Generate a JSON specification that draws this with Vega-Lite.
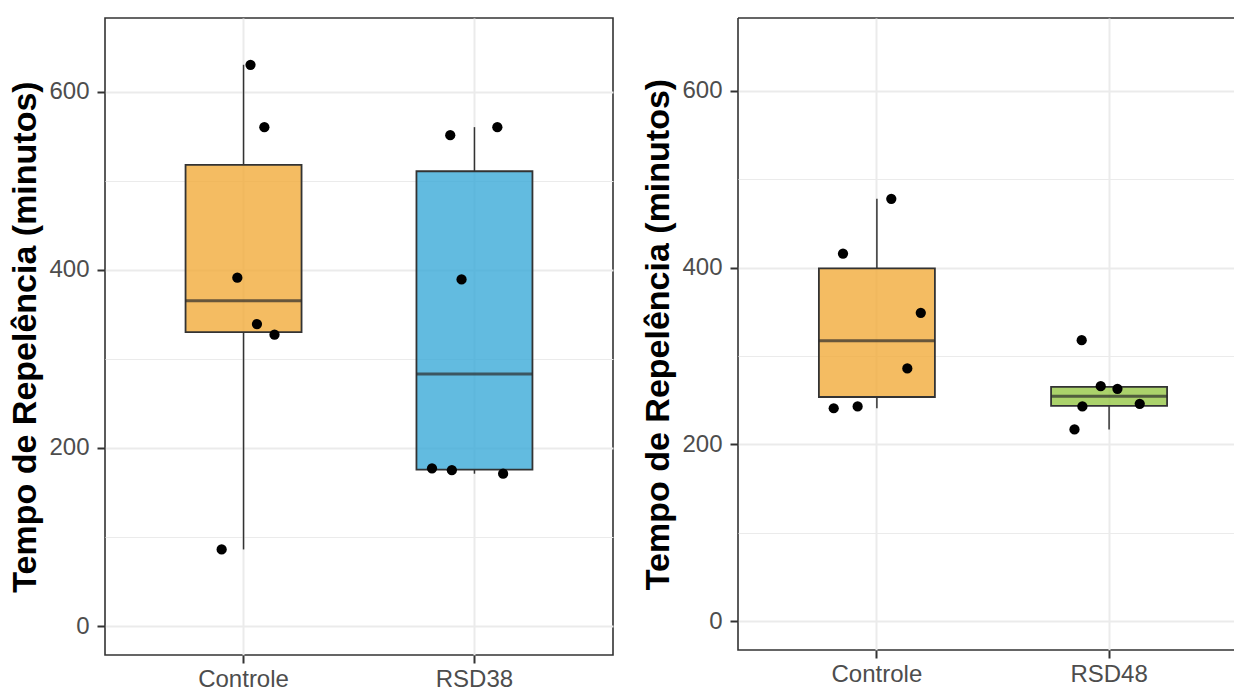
{
  "$schema": "https://vega.github.io/schema/vega-lite/v6.json",
  "padding": {"left": 8, "top": 17, "right": 0, "bottom": 0},
  "background": "white",
  "spacing": 27,
  "config": {
    "font": "Liberation Sans",
    "axis": {
      "labelFont": "Liberation Sans", "labelFontSize": 24, "labelColor": "#4D4D4D",
      "titleFont": "Liberation Sans", "titleFontSize": 34, "titleFontWeight": "bold", "titleColor": "#000000",
      "tickColor": "#333333", "tickWidth": 2, "tickSize": 8,
      "gridColor": "#EBEBEB", "domain": false
    },
    "axisY": {"labelPadding": 8, "titlePadding": 6},
    "axisX": {"labelPadding": 4},
    "view": {"stroke": "#333333", "strokeWidth": 1.6}
  },
  "resolve": {"scale": {"x": "independent", "y": "independent", "color": "independent", "xOffset": "independent"}},
  "hconcat": [
    {
      "width": 508, "height": 637,
      "data": {"values": [
        {"grupo": "Controle", "tempo": 630, "jitter": 0.030},
        {"grupo": "Controle", "tempo": 560, "jitter": 0.090},
        {"grupo": "Controle", "tempo": 391, "jitter": -0.027},
        {"grupo": "Controle", "tempo": 339, "jitter": 0.058},
        {"grupo": "Controle", "tempo": 327, "jitter": 0.134},
        {"grupo": "Controle", "tempo": 86, "jitter": -0.095},
        {"grupo": "RSD38", "tempo": 560, "jitter": 0.099},
        {"grupo": "RSD38", "tempo": 551, "jitter": -0.105},
        {"grupo": "RSD38", "tempo": 389, "jitter": -0.056},
        {"grupo": "RSD38", "tempo": 177, "jitter": -0.184},
        {"grupo": "RSD38", "tempo": 175, "jitter": -0.098},
        {"grupo": "RSD38", "tempo": 171, "jitter": 0.124}
      ]},
      "layer": [
        {
          "mark": {"type": "boxplot", "extent": 1.5, "outliers": false, "size": 116, "ticks": false,
            "box": {"stroke": "#333333", "strokeWidth": 1.8, "fillOpacity": 0.8},
            "median": {"color": "#2B2B2B", "thickness": 3},
            "rule": {"color": "#333333", "strokeWidth": 1.5}},
          "encoding": {
            "x": {"field": "grupo", "type": "nominal", "sort": ["Controle", "RSD38"], "title": null,
              "scale": {"type": "band", "paddingInner": 0.5, "paddingOuter": 0.35},
              "axis": {"labelAngle": 0, "grid": true, "gridWidth": 2, "bandPosition": 0.5}},
            "y": {"field": "tempo", "type": "quantitative", "title": "Tempo de Repelência (minutos)",
              "scale": {"domain": [-32.5, 682.5], "nice": false, "zero": false},
              "axis": {"values": [0, 100, 200, 300, 400, 500, 600], "labelOverlap": false,
                "labelExpr": "datum.value % 200 === 0 ? datum.label : ''",
                "gridWidth": {"condition": {"test": "datum.value % 200 === 0", "value": 2}, "value": 1.2},
                "tickOpacity": {"condition": {"test": "datum.value % 200 === 0", "value": 1}, "value": 0}}},
            "color": {"field": "grupo", "type": "nominal", "legend": null,
              "scale": {"domain": ["Controle", "RSD38"], "range": ["#F1AB3B", "#3BAAD8"]}}
          }
        },
        {
          "mark": {"type": "point", "filled": true, "size": 105, "color": "#000000", "opacity": 1},
          "encoding": {
            "x": {"field": "grupo", "type": "nominal", "sort": ["Controle", "RSD38"], "title": null,
              "scale": {"type": "band", "paddingInner": 0.5, "paddingOuter": 0.35}},
            "xOffset": {"field": "jitter", "type": "quantitative", "scale": {"domain": [-0.5, 0.5], "range": [-57.7, 173.2]}},
            "y": {"field": "tempo", "type": "quantitative", "title": "Tempo de Repelência (minutos)",
              "scale": {"domain": [-32.5, 682.5], "nice": false, "zero": false}}
          }
        }
      ]
    },
    {
      "width": 498, "height": 632,
      "view": {"stroke": "#333333", "strokeWidth": 1.6, "strokeDash": [498, 632, 1130, 0]},
      "data": {"values": [
        {"grupo": "Controle", "tempo": 478, "jitter": 0.062},
        {"grupo": "Controle", "tempo": 416, "jitter": -0.146},
        {"grupo": "Controle", "tempo": 349, "jitter": 0.189},
        {"grupo": "Controle", "tempo": 286, "jitter": 0.131},
        {"grupo": "Controle", "tempo": 243, "jitter": -0.083},
        {"grupo": "Controle", "tempo": 241, "jitter": -0.186},
        {"grupo": "RSD48", "tempo": 318, "jitter": -0.118},
        {"grupo": "RSD48", "tempo": 266, "jitter": -0.036},
        {"grupo": "RSD48", "tempo": 263, "jitter": 0.036},
        {"grupo": "RSD48", "tempo": 246, "jitter": 0.132},
        {"grupo": "RSD48", "tempo": 243, "jitter": -0.115},
        {"grupo": "RSD48", "tempo": 217, "jitter": -0.149}
      ]},
      "layer": [
        {
          "mark": {"type": "boxplot", "extent": 1.5, "outliers": false, "size": 116, "ticks": false,
            "box": {"stroke": "#333333", "strokeWidth": 1.8, "fillOpacity": 0.8},
            "median": {"color": "#2B2B2B", "thickness": 3},
            "rule": {"color": "#333333", "strokeWidth": 1.5}},
          "encoding": {
            "x": {"field": "grupo", "type": "nominal", "sort": ["Controle", "RSD48"], "title": null,
              "scale": {"type": "band", "paddingInner": 0.5, "paddingOuter": 0.3224, "align": 0.54},
              "axis": {"labelAngle": 0, "grid": true, "gridWidth": 2, "bandPosition": 0.5}},
            "y": {"field": "tempo", "type": "quantitative", "title": "Tempo de Repelência (minutos)",
              "scale": {"domain": [-32.5, 682.5], "nice": false, "zero": false},
              "axis": {"values": [0, 100, 200, 300, 400, 500, 600], "labelOverlap": false,
                "labelExpr": "datum.value % 200 === 0 ? datum.label : ''",
                "gridWidth": {"condition": {"test": "datum.value % 200 === 0", "value": 2}, "value": 1.2},
                "tickOpacity": {"condition": {"test": "datum.value % 200 === 0", "value": 1}, "value": 0}}},
            "color": {"field": "grupo", "type": "nominal", "legend": null,
              "scale": {"domain": ["Controle", "RSD48"], "range": ["#F1AB3B", "#96C746"]}}
          }
        },
        {
          "mark": {"type": "point", "filled": true, "size": 105, "color": "#000000", "opacity": 1},
          "encoding": {
            "x": {"field": "grupo", "type": "nominal", "sort": ["Controle", "RSD48"], "title": null,
              "scale": {"type": "band", "paddingInner": 0.5, "paddingOuter": 0.3224, "align": 0.54}},
            "xOffset": {"field": "jitter", "type": "quantitative", "scale": {"domain": [-0.5, 0.5], "range": [-58.05, 174.15]}},
            "y": {"field": "tempo", "type": "quantitative", "title": "Tempo de Repelência (minutos)",
              "scale": {"domain": [-32.5, 682.5], "nice": false, "zero": false}}
          }
        }
      ]
    }
  ]
}
